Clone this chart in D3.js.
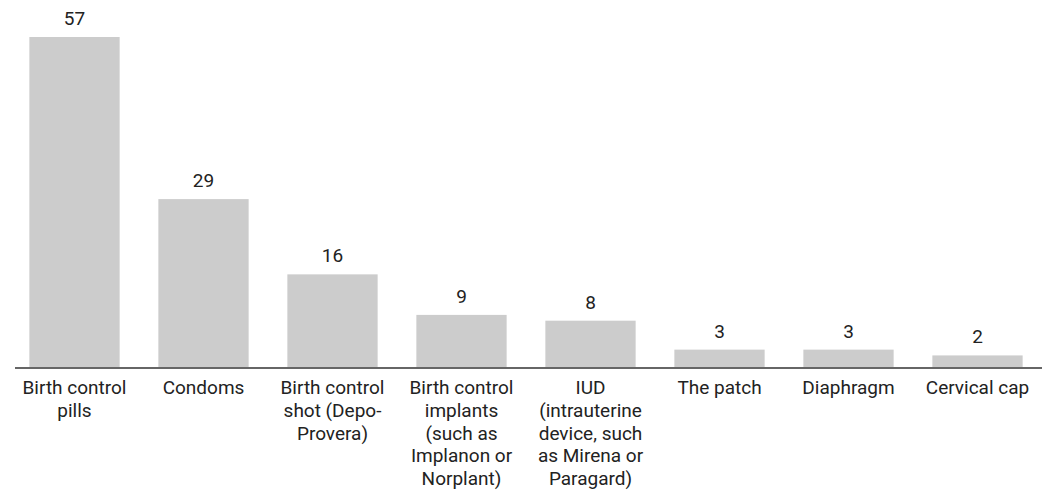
<!DOCTYPE html>
<html>
<head>
<meta charset="utf-8">
<script src="https://cdn.jsdelivr.net/npm/d3@7"></script>
<style>
  html, body { margin: 0; padding: 0; background: #fff; }
  svg { display: block; font-family: Roboto, "Noto Sans", sans-serif; }
</style>
</head>
<body>
<svg id="chart" width="1056" height="491"></svg>
<script>
const categories = [
  "Birth control pills",
  "Condoms",
  "Birth control shot (Depo-Provera)",
  "Birth control implants (such as Implanon or Norplant)",
  "IUD (intrauterine device, such as Mirena or Paragard)",
  "The patch",
  "Diaphragm",
  "Cervical cap"
];
const values = [57, 29, 16, 9, 8, 3, 3, 2];
const tickLabels = [
  ["Birth control", "pills"],
  ["Condoms"],
  ["Birth control", "shot (Depo-", "Provera)"],
  ["Birth control", "implants", "(such as", "Implanon or", "Norplant)"],
  ["IUD", "(intrauterine", "device, such", "as Mirena or", "Paragard)"],
  ["The patch"],
  ["Diaphragm"],
  ["Cervical cap"]
];

const svg = d3.select("#chart");
const baseY = 367;
const fontSize = 19;

const x = d3.scaleBand()
  .domain(categories)
  .range([10, 1042])
  .paddingInner(0.3)
  .paddingOuter(0.15);

const y = d3.scaleLinear()
  .domain([0, 57])
  .range([baseY, 37]);

svg.append("g").selectAll("rect")
  .data(values)
  .join("rect")
  .attr("x", (d, i) => x(categories[i]))
  .attr("y", d => y(d))
  .attr("width", x.bandwidth())
  .attr("height", d => baseY - y(d))
  .attr("fill", "#cccccc");

svg.append("g").selectAll("text")
  .data(values)
  .join("text")
  .attr("x", (d, i) => x(categories[i]) + x.bandwidth() / 2)
  .attr("y", d => y(d) - 12)
  .attr("text-anchor", "middle")
  .attr("font-size", fontSize)
  .attr("fill", "#222")
  .text(d => d);

const axis = d3.axisBottom(x).tickSize(0).tickPadding(0).tickFormat(() => "");
const ag = svg.append("g")
  .attr("transform", `translate(0,${baseY})`)
  .call(axis);
ag.select(".domain").remove();
ag.append("line")
  .attr("x1", 15).attr("x2", 1042)
  .attr("y1", 1).attr("y2", 1)
  .attr("stroke", "#333").attr("stroke-width", 1.6);

ag.selectAll(".tick").each(function(d, i) {
  const t = d3.select(this).select("text");
  t.attr("y", 0).attr("dy", null)
    .attr("font-size", fontSize).attr("fill", "#222")
    .attr("font-family", "Roboto, 'Noto Sans', sans-serif");
  tickLabels[i].forEach((line, j) => {
    t.append("tspan")
      .attr("x", 0)
      .attr("y", 27 + j * 22.8)
      .text(line);
  });
});
</script>
</body>
</html>
